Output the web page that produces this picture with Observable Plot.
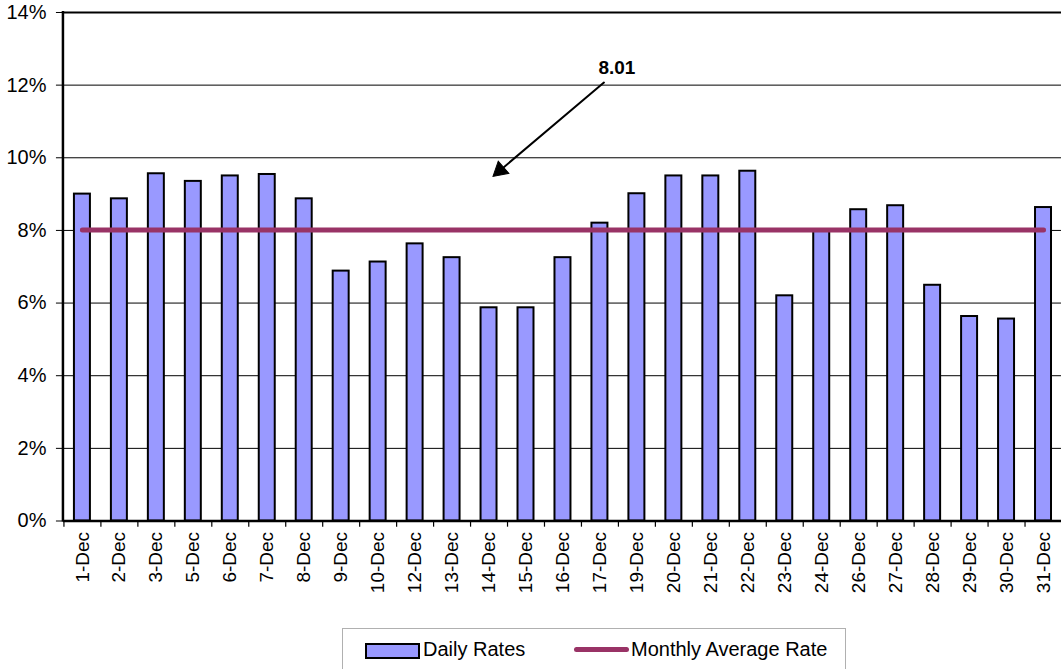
<!DOCTYPE html>
<html>
<head>
<meta charset="utf-8">
<script src="https://cdn.jsdelivr.net/npm/d3@7"></script>
<script src="https://cdn.jsdelivr.net/npm/@observablehq/plot@0.6"></script>
<style>
  html, body { margin: 0; padding: 0; background: white; overflow: hidden; }
  body { width: 1061px; height: 669px; position: relative; font-family: "Liberation Sans", Arial, sans-serif; }
  #chart { position: absolute; left: 0; top: 0; }
  #legend { position: absolute; left: 342px; top: 628px; width: 504px; height: 44px; border: 1px solid #b0b0b0; box-sizing: border-box; font-size: 20px; color: #000; }
  .sw-bar { position: absolute; left: 22px; top: 14px; width: 51px; height: 12px; background: #9999FF; border: 2px solid #000; }
  .sw-line { position: absolute; left: 231px; top: 18px; width: 55px; height: 5px; background: #993366; border-radius: 3px; }
  .lbl { position: absolute; top: 9px; line-height: 23px; white-space: nowrap; }
</style>
</head>
<body>
<div id="chart"></div>
<div id="legend">
  <div class="sw-bar"></div><div class="lbl" style="left:80px">Daily Rates</div>
  <div class="sw-line"></div><div class="lbl" style="left:288px">Monthly Average Rate</div>
</div>
<script>
const dates = ["1-Dec","2-Dec","3-Dec","5-Dec","6-Dec","7-Dec","8-Dec","9-Dec","10-Dec","12-Dec","13-Dec","14-Dec","15-Dec","16-Dec","17-Dec","19-Dec","20-Dec","21-Dec","22-Dec","23-Dec","24-Dec","26-Dec","27-Dec","28-Dec","29-Dec","30-Dec","31-Dec"];
const dailyRates = [9.00,8.87,9.56,9.35,9.50,9.54,8.87,6.88,7.13,7.63,7.25,5.87,5.87,7.25,8.20,9.01,9.50,9.50,9.63,6.20,7.98,8.57,8.68,6.49,5.63,5.56,8.63];
const monthlyAverage = 8.01;
const yTicks = [0,2,4,6,8,10,12,14];
const annotationLabel = "8.01";
const arrowFrom = {date: "17-Dec", value: 12.07};
const arrowTo = {date: "14-Dec", value: 9.49};
const labelPos = {date: "17-Dec", value: 12.47};

const rows = dates.map((d, i) => ({date: d, rate: dailyRates[i]}));
const avgRows = dates.map(d => ({date: d, rate: monthlyAverage}));
const boundaries = dates.map(d => ({date: d}));

const chart = Plot.plot({
  width: 1062,
  height: 612,
  marginLeft: 63,
  marginRight: 0,
  marginTop: 12,
  marginBottom: 91,
  style: {fontFamily: "'Liberation Sans', Arial, sans-serif", fontSize: "19px", background: "white", color: "black"},
  x: {domain: dates, paddingInner: 0.58, paddingOuter: 0.29, label: null},
  y: {domain: [0, 14], label: null},
  marks: [
    Plot.gridY(yTicks.filter(t => t > 0 && t < 14), {stroke: "black", strokeOpacity: 1, strokeWidth: 1}),
    Plot.ruleY([14], {stroke: "black", strokeWidth: 2}),
    Plot.barY(rows, {x: "date", y: "rate", fill: "#9999FF", stroke: "black", strokeWidth: 2}),
    Plot.lineY(avgRows, {x: "date", y: "rate", stroke: "#993366", strokeWidth: 5, strokeLinecap: "round"}),
    Plot.ruleY([0], {stroke: "black", strokeWidth: 2.5}),
    Plot.ruleX(boundaries, {x: "date", y1: 0, y2: -0.17, dx: -18.5, stroke: "black", strokeWidth: 1.2}),
    Plot.axisY({ticks: yTicks, tickSize: 7, tickPadding: 10, tickFormat: d => d + "%", fontSize: 20}),
    Plot.axisX({tickSize: 0, tickRotate: -90, tickPadding: 11, fontSize: 19}),
    Plot.arrow([0], {x1: () => arrowFrom.date, y1: () => arrowFrom.value, x2: () => arrowTo.date, y2: () => arrowTo.value, dx: 4, stroke: "black", strokeWidth: 2, headLength: 0, bend: 0, insetEnd: 6}),
    Plot.dot([0], {x: () => arrowTo.date, y: () => arrowTo.value, symbol: "triangle", r: 6, rotate: 229, dx: 11, dy: -6, fill: "black", stroke: "black", strokeWidth: 1}),
    Plot.text([annotationLabel], {x: () => labelPos.date, y: () => labelPos.value, text: d => d, dx: 17, fontWeight: "bold", fontSize: 19, fill: "black"})
  ]
});
// left axis line (frame)
const svg = d3.select(chart);
svg.append("line").attr("x1", 63).attr("x2", 63).attr("y1", 11).attr("y2", 522).attr("stroke", "black").attr("stroke-width", 2.5);
document.getElementById("chart").appendChild(chart);
</script>
</body>
</html>
